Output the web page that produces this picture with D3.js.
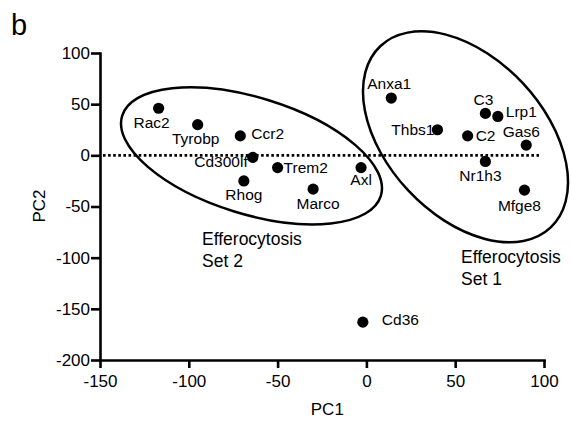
<!DOCTYPE html>
<meta charset="utf-8">
<style>
  body { margin: 0; background: #fff; }
  svg text { font-family: "Liberation Sans", Arial, sans-serif; fill: #000; }
  .axis path, .axis line { stroke: #000; stroke-width: 2.6; }
  .axis text { font-size: 17px; }
</style>
<body>
<script src="https://d3js.org/d3.v7.min.js"></script>
<script>

  // PCA scores
  var genes = ["Rac2", "Tyrobp", "Ccr2", "Cd300lf", "Rhog", "Trem2", "Marco", "Axl",
               "Anxa1", "Thbs1", "C3", "Lrp1", "C2", "Gas6", "Nr1h3", "Mfge8", "Cd36"];
  var pc1 = [-117, -95, -71, -64, -69, -50, -30, -3, 14, 40, 67, 74, 57, 90, 67, 89, -2];
  var pc2 = [46, 30, 19, -2, -25, -12, -33, -12, 56, 25, 41, 38, 19, 10, -6, -34, -163];

  var xTicks = [-150, -100, -50, 0, 50, 100];
  var yTicks = [100, 50, 0, -50, -100, -150, -200];

  // gene sets circled on the plot (centre in PC units)
  var setNames = [["Efferocytosis", "Set 2"], ["Efferocytosis", "Set 1"]];
  var setCentre1 = [-64.7, -0.5];
  var setCentre2 = [55.8, 18.1];

  // label placement next to each dot: [anchor, dx, dy]
  var labelPos = {
    Rac2: ["middle", -7, 20], Tyrobp: ["middle", -2, 19], Ccr2: ["start", 11, 3],
    Cd300lf: ["end", -5, 10], Rhog: ["middle", 0, 19], Trem2: ["start", 6, 5],
    Marco: ["middle", 5, 20], Axl: ["middle", 0, 17], Anxa1: ["middle", -2, -9],
    Thbs1: ["end", -3, 5], C3: ["middle", -2, -8], Lrp1: ["start", 8, 1],
    C2: ["start", 8, 5], Gas6: ["middle", -5, -8], Nr1h3: ["middle", -5, 20],
    Mfge8: ["middle", -5, 21], Cd36: ["start", 19, 3]
  };

  var W = 571, H = 423;
  var margin = { top: 53, right: 27, bottom: 63, left: 100 };
  var width = W - margin.left - margin.right,
      height = H - margin.top - margin.bottom;

  var svg = d3.select("body").append("svg")
    .attr("width", W)
    .attr("height", H);

  var g = svg.append("g")
    .attr("transform", "translate(" + margin.left + "," + margin.top + ")");

  var x = d3.scaleLinear().domain([-150, 100]).range([0, width]);
  var y = d3.scaleLinear().domain([-200, 100]).range([height, 0]);

  // plain hyphen for negatives, like the original figure
  var fmt = function (d) { return String(d); };

  // dotted zero line
  g.append("line")
    .attr("x1", x(-150) + 3).attr("x2", x(100) - 5)
    .attr("y1", y(0)).attr("y2", y(0))
    .attr("stroke", "#000")
    .attr("stroke-width", 2.6)
    .attr("stroke-dasharray", "2.6,2.5");

  // ellipses around the two sets
  var ellipses = [
    { c: setCentre1, rx: 135.4, ry: 58.2, rot: 17.2 },
    { c: setCentre2, rx: 124.4, ry: 78.5, rot: 46.9 }
  ];
  g.selectAll(".set")
    .data(ellipses)
    .enter().append("ellipse")
    .attr("class", "set")
    .attr("transform", function (d) {
      return "translate(" + x(d.c[0]) + "," + y(d.c[1]) + ") rotate(" + d.rot + ")";
    })
    .attr("rx", function (d) { return d.rx; })
    .attr("ry", function (d) { return d.ry; })
    .attr("fill", "none")
    .attr("stroke", "#000")
    .attr("stroke-width", 2.5);

  // set captions
  var captionAt = [[202, 245], [461, 263]];
  setNames.forEach(function (lines, i) {
    var t = svg.append("text")
      .attr("x", captionAt[i][0])
      .attr("y", captionAt[i][1])
      .style("font-size", "17.5px");
    lines.forEach(function (s, j) {
      t.append("tspan")
        .attr("x", captionAt[i][0])
        .attr("dy", j === 0 ? 0 : 22)
        .text(s);
    });
  });

  // axes
  g.append("g")
    .attr("class", "axis")
    .call(d3.axisLeft(y).tickValues(yTicks).tickSize(9).tickSizeOuter(0).tickPadding(1)
      .tickFormat(fmt));

  g.append("g")
    .attr("class", "axis")
    .attr("transform", "translate(0," + height + ")")
    .call(d3.axisBottom(x).tickValues(xTicks).tickSize(8).tickSizeOuter(0).tickPadding(7)
      .tickFormat(fmt));

  g.selectAll(".axis .domain").attr("stroke-linecap", "square");

  // points
  var pts = genes.map(function (name, i) { return { name: name, x: pc1[i], y: pc2[i] }; });

  g.selectAll(".dot")
    .data(pts)
    .enter().append("circle")
    .attr("class", "dot")
    .attr("cx", function (d) { return x(d.x); })
    .attr("cy", function (d) { return y(d.y); })
    .attr("r", 5.6)
    .attr("fill", "#000");

  g.selectAll(".lbl")
    .data(pts)
    .enter().append("text")
    .attr("class", "lbl")
    .attr("x", function (d) { return x(d.x) + labelPos[d.name][1]; })
    .attr("y", function (d) { return y(d.y) + labelPos[d.name][2]; })
    .attr("text-anchor", function (d) { return labelPos[d.name][0]; })
    .style("font-size", "15.5px")
    .text(function (d) { return d.name; });

  // axis titles
  svg.append("text")
    .attr("x", margin.left + x(-22))
    .attr("y", 415)
    .attr("text-anchor", "middle")
    .style("font-size", "17px")
    .text("PC1");

  svg.append("text")
    .attr("transform", "translate(45," + 206 + ") rotate(-90)")
    .attr("text-anchor", "middle")
    .style("font-size", "17px")
    .text("PC2");

  // panel letter
  svg.append("text")
    .attr("x", 11)
    .attr("y", 35)
    .style("font-size", "29px")
    .text("b");

</script>
